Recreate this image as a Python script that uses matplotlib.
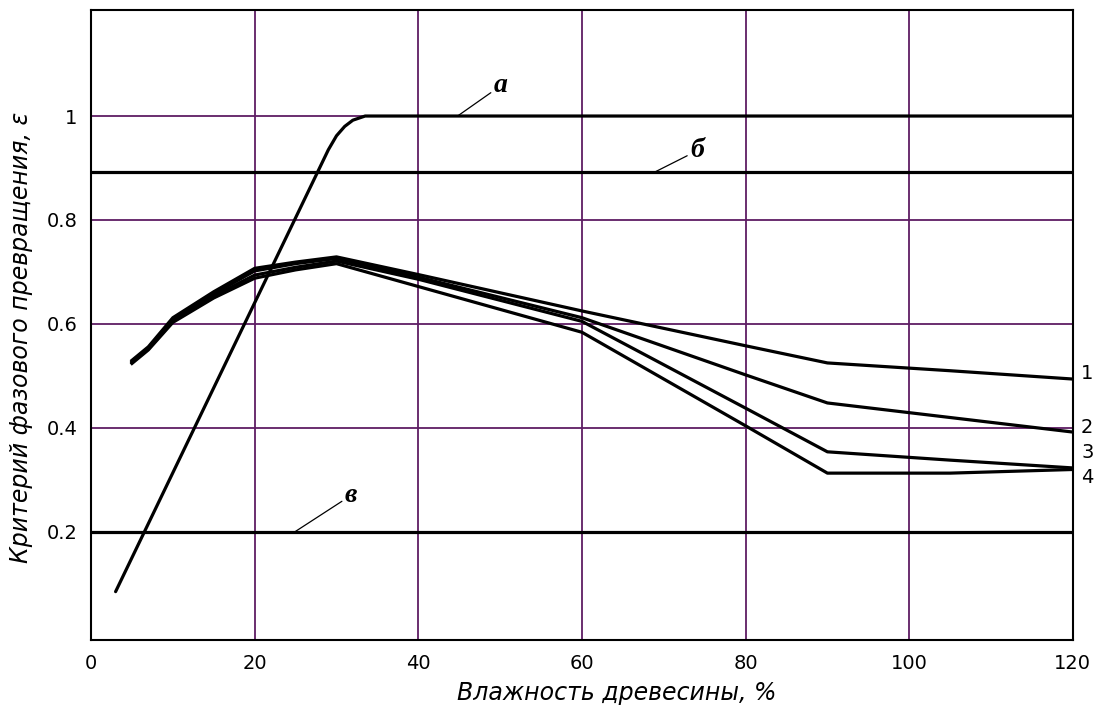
import matplotlib
matplotlib.use("Agg")
import matplotlib.pyplot as plt

# curve "а" (steep rise, then flat at 1)
a_x = [3, 29, 30, 31, 32, 33.5, 120]
a_y = [0.085, 0.935, 0.962, 0.980, 0.992, 1.0, 1.0]

# horizontal levels "б" and "в"
b_level = 0.893
v_level = 0.2

# curves 1-4
c_x = [5, 7, 10, 15, 20, 25, 30, 40, 60, 80, 90, 105, 120]
c1 = [0.53, 0.556, 0.612, 0.662, 0.707, 0.719, 0.729, 0.695, 0.625, 0.558, 0.525, 0.510, 0.494]
c2 = [0.528, 0.554, 0.608, 0.658, 0.702, 0.716, 0.726, 0.690, 0.612, 0.502, 0.448, 0.420, 0.392]
c3 = [0.526, 0.552, 0.605, 0.654, 0.694, 0.709, 0.721, 0.686, 0.605, 0.438, 0.354, 0.338, 0.323]
c4 = [0.524, 0.550, 0.603, 0.650, 0.688, 0.704, 0.716, 0.672, 0.584, 0.404, 0.313, 0.313, 0.320]
curve_names = ["1", "2", "3", "4"]
curve_label_y = [0.505, 0.400, 0.352, 0.305]

xticks = [0, 20, 40, 60, 80, 100, 120]
yticks = [0.2, 0.4, 0.6, 0.8, 1.0]
ytick_labels = ["0.2", "0.4", "0.6", "0.8", "1"]

grid_color = "#5e1d63"

fig = plt.figure(figsize=(10.97, 7.13), dpi=100)
ax = fig.add_axes([0.083, 0.1024, 0.895, 0.8836])

for gx in xticks[1:-1]:
    ax.axvline(gx, color=grid_color, lw=1.3, zorder=1)
for gy in yticks:
    ax.axhline(gy, color=grid_color, lw=1.3, zorder=1)

ax.plot(a_x, a_y, color="black", lw=2.3, zorder=3, solid_capstyle="round")
ax.axhline(b_level, color="black", lw=2.3, zorder=3)
ax.axhline(v_level, color="black", lw=2.3, zorder=3)

for cy in [c1, c2, c3, c4]:
    ax.plot(c_x, cy, color="black", lw=2.3, zorder=3, solid_joinstyle="round")

for name, ly in zip(curve_names, curve_label_y):
    ax.text(121.0, ly, name, fontsize=14, va="center", ha="left", clip_on=False)

serif = dict(family="Liberation Serif", style="italic", weight="bold", fontsize=20)
leader = dict(arrowstyle="-", lw=0.9, color="black", shrinkA=0, shrinkB=0)
ax.annotate("а", xy=(44.8, 1.0), xytext=(49.2, 1.058), arrowprops=leader,
            ha="left", va="center", **serif)
ax.annotate("б", xy=(69.0, b_level), xytext=(73.2, 0.933), arrowprops=leader,
            ha="left", va="center", **serif)
ax.annotate("в", xy=(24.9, v_level), xytext=(31.0, 0.27), arrowprops=leader,
            ha="left", va="center", **serif)

ax.set_xlim(0, 120)
ax.set_ylim(-0.008, 1.204)
ax.set_xticks(xticks)
ax.set_yticks(yticks)
ax.set_yticklabels(ytick_labels)
ax.tick_params(length=0, labelsize=14, pad=10)
for sp in ax.spines.values():
    sp.set_linewidth(1.5)

ax.set_xlabel("Влажность древесины, %", fontsize=17, style="italic", va="center")
ax.xaxis.set_label_coords(0.535, -0.084)
ax.set_ylabel("Критерий фазового превращения, ε", fontsize=17, style="italic", va="center")
ax.yaxis.set_label_coords(-0.071, 0.48)

fig.savefig("out.png", dpi=100)
